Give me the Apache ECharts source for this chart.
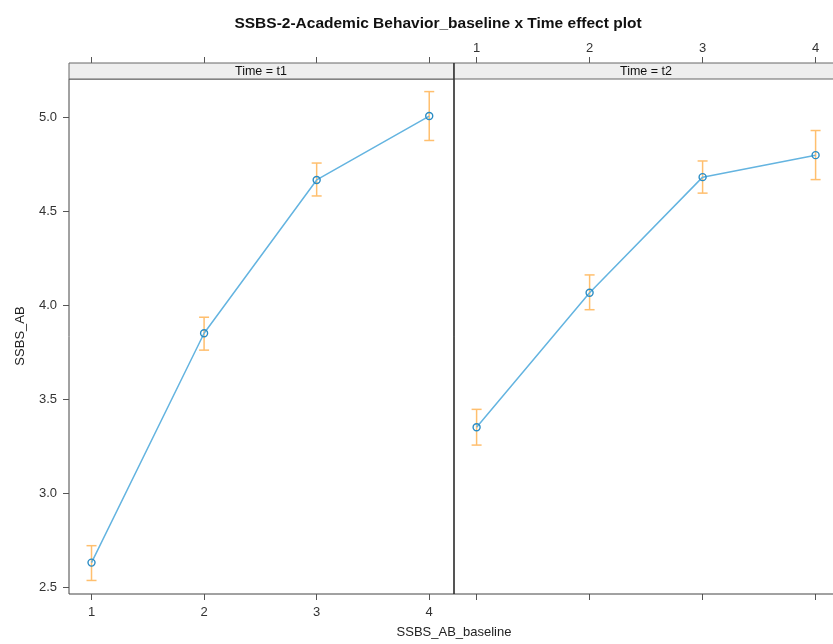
<!DOCTYPE html>
<html>
<head>
<meta charset="utf-8">
<title>SSBS-2-Academic Behavior_baseline x Time effect plot</title>
<script src="https://cdn.jsdelivr.net/npm/echarts@6/dist/echarts.min.js"></script>
<style>
    html, body { margin: 0; padding: 0; background: #fff; }
    #main { width: 833px; height: 644px; }
</style>
</head>
<body>
<div id="main"></div>
<script>
// baseline levels (x) and fitted values per panel
var baseline = [1, 2, 3, 4];
var yTicks = [2.5, 3.0, 3.5, 4.0, 4.5, 5.0];
var panels = ['Time = t1', 'Time = t2'];

var fitT1 = [2.63, 3.85, 4.665, 5.005];
var lowerT1 = [2.535, 3.76, 4.58, 4.875];
var upperT1 = [2.72, 3.935, 4.755, 5.135];

var fitT2 = [3.35, 4.065, 4.68, 4.797];
var lowerT2 = [3.255, 3.975, 4.595, 4.667];
var upperT2 = [3.445, 4.16, 4.766, 4.928];

var FONT = 'Liberation Sans';
var LINE_COL = '#64b4e0';
var BAR_COL = '#ffbf6e';
var PT_COL = '#2a8cc4';

function pairs(xs, ys) {
    var out = [];
    for (var i = 0; i < xs.length; i++) {
        out.push([xs[i], ys[i]]);
    }
    return out;
}

function triples(xs, lo, hi) {
    var out = [];
    for (var i = 0; i < xs.length; i++) {
        out.push([xs[i], lo[i], hi[i]]);
    }
    return out;
}

// vertical bar with caps, like lattice error bars
function renderErrBar(params, api) {
    var x = api.value(0);
    var lo = api.coord([x, api.value(1)]);
    var hi = api.coord([x, api.value(2)]);
    var w = 5;
    var st = { stroke: BAR_COL, lineWidth: 1.5 };
    return {
        type: 'group',
        children: [
            { type: 'line', shape: { x1: lo[0], y1: lo[1], x2: hi[0], y2: hi[1] }, style: st },
            { type: 'line', shape: { x1: lo[0] - w, y1: lo[1], x2: lo[0] + w, y2: lo[1] }, style: st },
            { type: 'line', shape: { x1: hi[0] - w, y1: hi[1], x2: hi[0] + w, y2: hi[1] }, style: st }
        ]
    };
}

// the right panel is cut off at the page edge, so its range stops early
function xAxisCfg(grid, pos, showLabel) {
    return {
        type: 'value',
        gridIndex: grid,
        position: pos,
        offset: pos == 'top' ? 16 : 0,
        min: 0.8,
        max: grid == 0 ? 4.22 : 4.154,
        splitLine: { show: false },
        axisLine: { show: false },
        axisTick: { show: true, inside: false, length: 6, customValues: baseline, lineStyle: { color: '#555' } },
        axisLabel: {
            show: showLabel, customValues: baseline, margin: pos == 'top' ? 8 : 12,
            color: '#333', fontFamily: FONT, fontSize: 13
        }
    };
}

function yAxisCfg(grid, showLabel) {
    return {
        type: 'value',
        gridIndex: grid,
        min: 2.463,
        max: 5.202,
        splitLine: { show: false },
        axisLine: { show: false },
        axisTick: { show: showLabel, length: 6, customValues: yTicks, lineStyle: { color: '#555' } },
        axisLabel: {
            show: showLabel, customValues: yTicks, margin: 12,
            color: '#333', fontFamily: FONT, fontSize: 13,
            formatter: function (v) { return v.toFixed(1); }
        }
    };
}

function stripGraphic(left, text) {
    return [
        {
            type: 'rect', z: 10,
            shape: { x: left, y: 63, width: 385, height: 16 },
            style: { fill: '#eeeeee', stroke: '#666', lineWidth: 1 }
        },
        {
            type: 'text', z: 11,
            x: left + 192, y: 72,
            style: {
                text: text, fill: '#111', font: '12.5px "' + FONT + '"',
                align: 'center', verticalAlign: 'middle'
            }
        }
    ];
}

function lineSeries(xi, yi, ys) {
    return {
        type: 'line', xAxisIndex: xi, yAxisIndex: yi, data: pairs(baseline, ys), z: 3,
        symbol: 'circle', symbolSize: 7,
        lineStyle: { color: LINE_COL, width: 1.5 },
        itemStyle: { color: 'rgba(0,0,0,0)', borderColor: PT_COL, borderWidth: 1.4 }
    };
}

var myChart = echarts.init(document.getElementById('main'));

var option = {
    backgroundColor: '#fff',
    animation: false,
    title: {
        text: 'SSBS-2-Academic Behavior_baseline x Time effect plot',
        left: 433, top: 11, textAlign: 'center',
        textStyle: { fontFamily: FONT, fontSize: 15.5, fontWeight: 'bold', color: '#111' }
    },
    grid: [
        { left: 69, top: 79, width: 385, height: 515, show: true, borderColor: '#444', borderWidth: 1, backgroundColor: 'transparent' },
        // right panel: no own border, its right edge lies beyond the page
        { left: 454, top: 79, width: 379, height: 515, show: false }
    ],
    xAxis: [
        xAxisCfg(0, 'bottom', true),
        xAxisCfg(0, 'top', false),
        xAxisCfg(1, 'bottom', false),
        xAxisCfg(1, 'top', true)
    ],
    yAxis: [
        yAxisCfg(0, true),
        yAxisCfg(1, false)
    ],
    graphic: stripGraphic(69, panels[0]).concat(stripGraphic(454, panels[1])).concat([
        {
            type: 'line', z: 5,
            shape: { x1: 454, y1: 594, x2: 833, y2: 594 },
            style: { stroke: '#444', lineWidth: 1 }
        },
        {
            type: 'line', z: 12,
            shape: { x1: 454, y1: 63, x2: 454, y2: 594 },
            style: { stroke: '#222', lineWidth: 1.2 }
        },
        {
            type: 'text', x: 454, y: 632,
            style: { text: 'SSBS_AB_baseline', fill: '#222', font: '13px "' + FONT + '"', align: 'center', verticalAlign: 'middle' }
        },
        {
            type: 'text', x: 20, y: 336, rotation: Math.PI / 2,
            style: { text: 'SSBS_AB', fill: '#222', font: '13px "' + FONT + '"', align: 'center', verticalAlign: 'middle' }
        }
    ]),
    series: [
        {
            type: 'custom', xAxisIndex: 0, yAxisIndex: 0,
            renderItem: renderErrBar, data: triples(baseline, lowerT1, upperT1), z: 2
        },
        {
            type: 'custom', xAxisIndex: 2, yAxisIndex: 1,
            renderItem: renderErrBar, data: triples(baseline, lowerT2, upperT2), z: 2
        },
        lineSeries(0, 0, fitT1),
        lineSeries(2, 1, fitT2)
    ]
};

myChart.setOption(option);
window.onresize = myChart.resize;
</script>
</body>
</html>
